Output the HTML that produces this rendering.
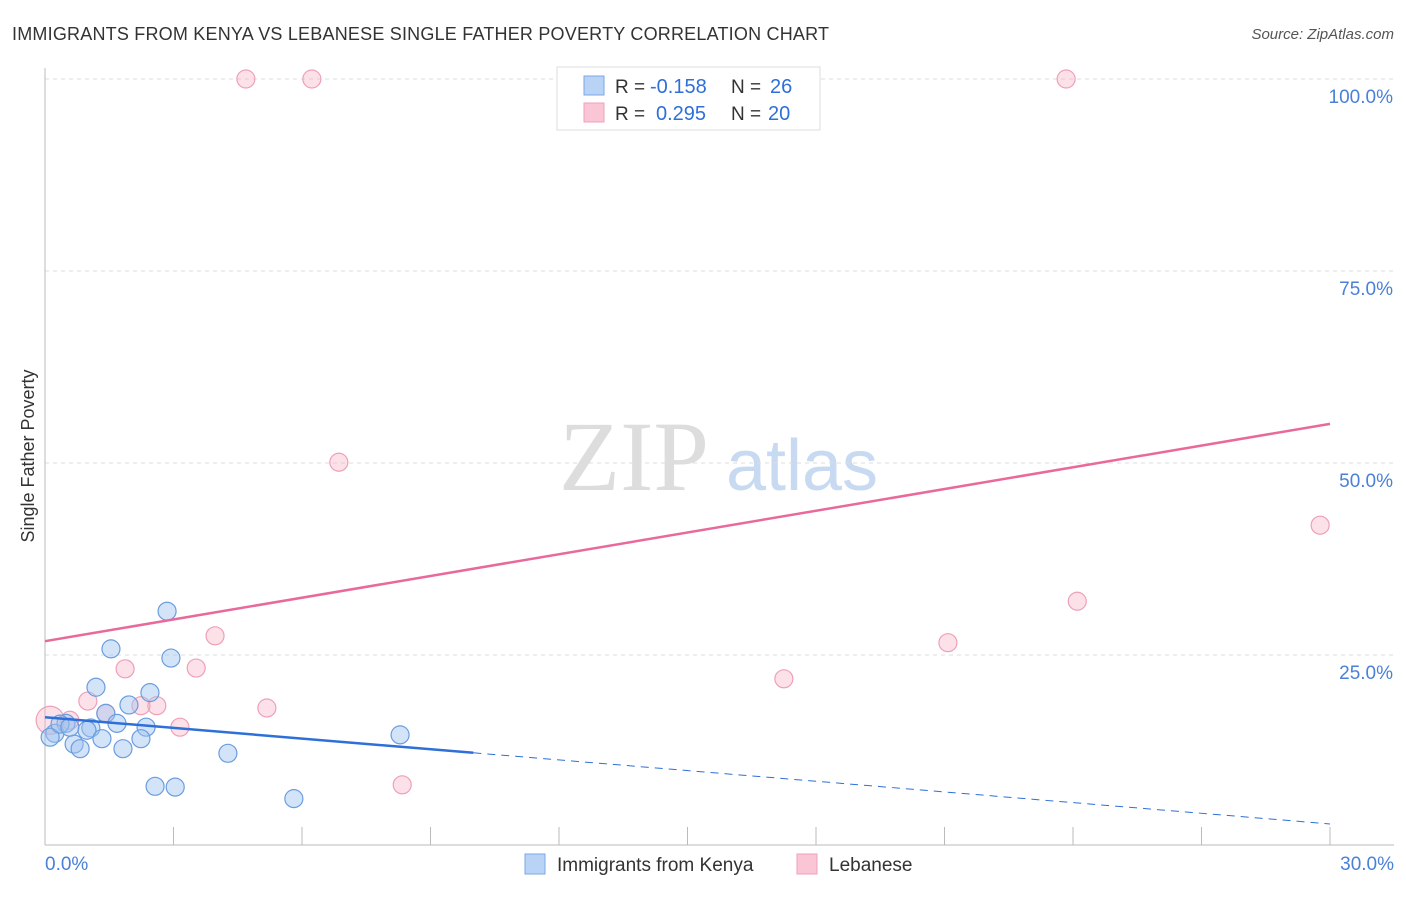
<!DOCTYPE html>
<html><head><meta charset="utf-8"><style>
body{margin:0;background:#fff;font-family:"Liberation Sans",sans-serif;}
</style></head><body>
<svg id="chart" width="1406" height="892" font-family="Liberation Sans, sans-serif">
<text x="12" y="40" font-size="18" fill="#333" textLength="817">IMMIGRANTS FROM KENYA VS LEBANESE SINGLE FATHER POVERTY CORRELATION CHART</text>
<text x="1394" y="39" font-size="15" fill="#555" font-style="italic" text-anchor="end">Source: ZipAtlas.com</text>
<text x="634" y="490" font-size="100" fill="#ddd" style="font-family:'Liberation Serif',serif" text-anchor="middle">ZIP</text>
<text x="802" y="490" font-size="72" fill="#c8daf2" text-anchor="middle">atlas</text>
<g id="grid"></g><g id="marks"></g>
<text transform="translate(34,456) rotate(-90)" font-size="18" fill="#333" text-anchor="middle">Single Father Poverty</text>
<g>
<rect x="557" y="67" width="263" height="63" fill="#fff" stroke="#ddd"/>
<rect x="584" y="76" width="20" height="19" fill="#b8d3f5" stroke="#7aa7e6"/>
<rect x="584" y="103" width="20" height="19" fill="#fac6d6" stroke="#eea0b8"/>
<text x="615" y="93" font-size="19" fill="#333">R =</text>
<text x="650" y="93" font-size="20" fill="#2e6fd8">-0.158</text>
<text x="731" y="93" font-size="19" fill="#333">N =</text>
<text x="770" y="93" font-size="20" fill="#2e6fd8">26</text>
<text x="615" y="120" font-size="19" fill="#333">R =</text>
<text x="656" y="120" font-size="20" fill="#2e6fd8">0.295</text>
<text x="731" y="120" font-size="19" fill="#333">N =</text>
<text x="768" y="120" font-size="20" fill="#2e6fd8">20</text>
</g>
<g>
<rect x="525" y="854" width="20" height="20" fill="#b8d3f5" stroke="#7aa7e6"/>
<text x="557" y="871" font-size="19" fill="#333">Immigrants from Kenya</text>
<rect x="797" y="854" width="20" height="20" fill="#fac6d6" stroke="#eea0b8"/>
<text x="829" y="871" font-size="19" fill="#333">Lebanese</text>
</g>
</svg>
<script>
const kenyaX=[2.85,1.54,2.94,1.19,2.45,1.96,1.42,1.68,2.36,1.07,0.49,0.98,0.23,0.12,1.33,2.24,0.68,0.82,1.82,4.27,8.29,2.57,3.04,5.81,0.35,0.58];
const kenyaY=[30.7,25.8,24.6,20.8,20.1,18.5,17.4,16.1,15.6,15.5,16.1,15.2,14.8,14.3,14.1,14.1,13.4,12.8,12.8,12.2,14.6,7.9,7.8,6.3,16.0,15.6];
const lebX=[4.69,6.23,23.84,6.86,29.77,24.1,3.97,21.08,1.87,3.53,17.25,1.0,5.18,2.61,2.24,1.42,3.15,8.34,0.12,0.58];
const lebY=[100,100,100,50.1,41.9,32.0,27.5,26.6,23.2,23.3,21.9,19.0,18.1,18.4,18.4,17.4,15.6,8.1,16.5,16.5];
const yTicks=[25,50,75,100];
const yTickLabels=["25.0%","50.0%","75.0%","100.0%"];
const xTickVals=[0,3,6,9,12,15,18,21,24,27,30];
const lebTrend=[26.8,55.1];
const kenyaTrend=[16.9,3.0];
const kenyaSolidEnd=10;
const xs=v=>45+v*1285/30, ys=v=>847-v*7.68;
const NS="http://www.w3.org/2000/svg";
function mk(t,a,p){const e=document.createElementNS(NS,t);for(const k in a)e.setAttribute(k,a[k]);p.appendChild(e);return e;}
const g=document.getElementById('grid'), m=document.getElementById('marks');
yTicks.forEach((v,i)=>{
 const l=mk('line',{x1:45,x2:1394,y1:ys(v),y2:ys(v),stroke:'#ddd','stroke-dasharray':'4,4'},g);
 
 
 const t=mk('text',{x:1393,y:ys(v)+24,'font-size':19,fill:'#4a80d8','text-anchor':'end'},g);t.textContent=yTickLabels[i];
 
 
});
const ax=mk('line',{x1:45,x2:45,y1:68,y2:845,stroke:'#bbb'},g);


const bx=mk('line',{x1:45,x2:1394,y1:845,y2:845,stroke:'#bbb'},g);


xTickVals.forEach(v=>{const l=mk('line',{x1:xs(v),x2:xs(v),y1:827,y2:845,stroke:'#bbb'},g);
 
 });
let t0=mk('text',{x:45,y:870,'font-size':19,fill:'#4a80d8'},g);t0.textContent='0.0%';


let t1=mk('text',{x:1394,y:870,'font-size':19,fill:'#4a80d8','text-anchor':'end'},g);t1.textContent='30.0%';


lebX.forEach((x,i)=>{const c=mk('circle',{cx:xs(x),cy:ys(lebY[i]),r:i==18?14:9,fill:'rgba(248,180,200,0.4)',stroke:'#eea0b8','stroke-width':1.2},m);
 
 });
kenyaX.forEach((x,i)=>{const c=mk('circle',{cx:xs(x),cy:ys(kenyaY[i]),r:9,fill:'rgba(160,195,240,0.45)',stroke:'#6a9de0','stroke-width':1.2},m);
 
 });
const lt=mk('line',{x1:xs(0),y1:ys(lebTrend[0]),x2:xs(30),y2:ys(lebTrend[1]),stroke:'#e8699a','stroke-width':2.5},m);


const ky=x=>kenyaTrend[0]+(kenyaTrend[1]-kenyaTrend[0])*x/30;
const kt=mk('line',{x1:xs(0),y1:ys(ky(0)),x2:xs(kenyaSolidEnd),y2:ys(ky(kenyaSolidEnd)),stroke:'#2e6fd8','stroke-width':2.5},m);


const kd=mk('line',{x1:xs(kenyaSolidEnd),y1:ys(ky(kenyaSolidEnd)),x2:xs(30),y2:ys(ky(30)),stroke:'#2e6fd8','stroke-width':1,'stroke-dasharray':'8,6'},m);


</script>
</body></html>
